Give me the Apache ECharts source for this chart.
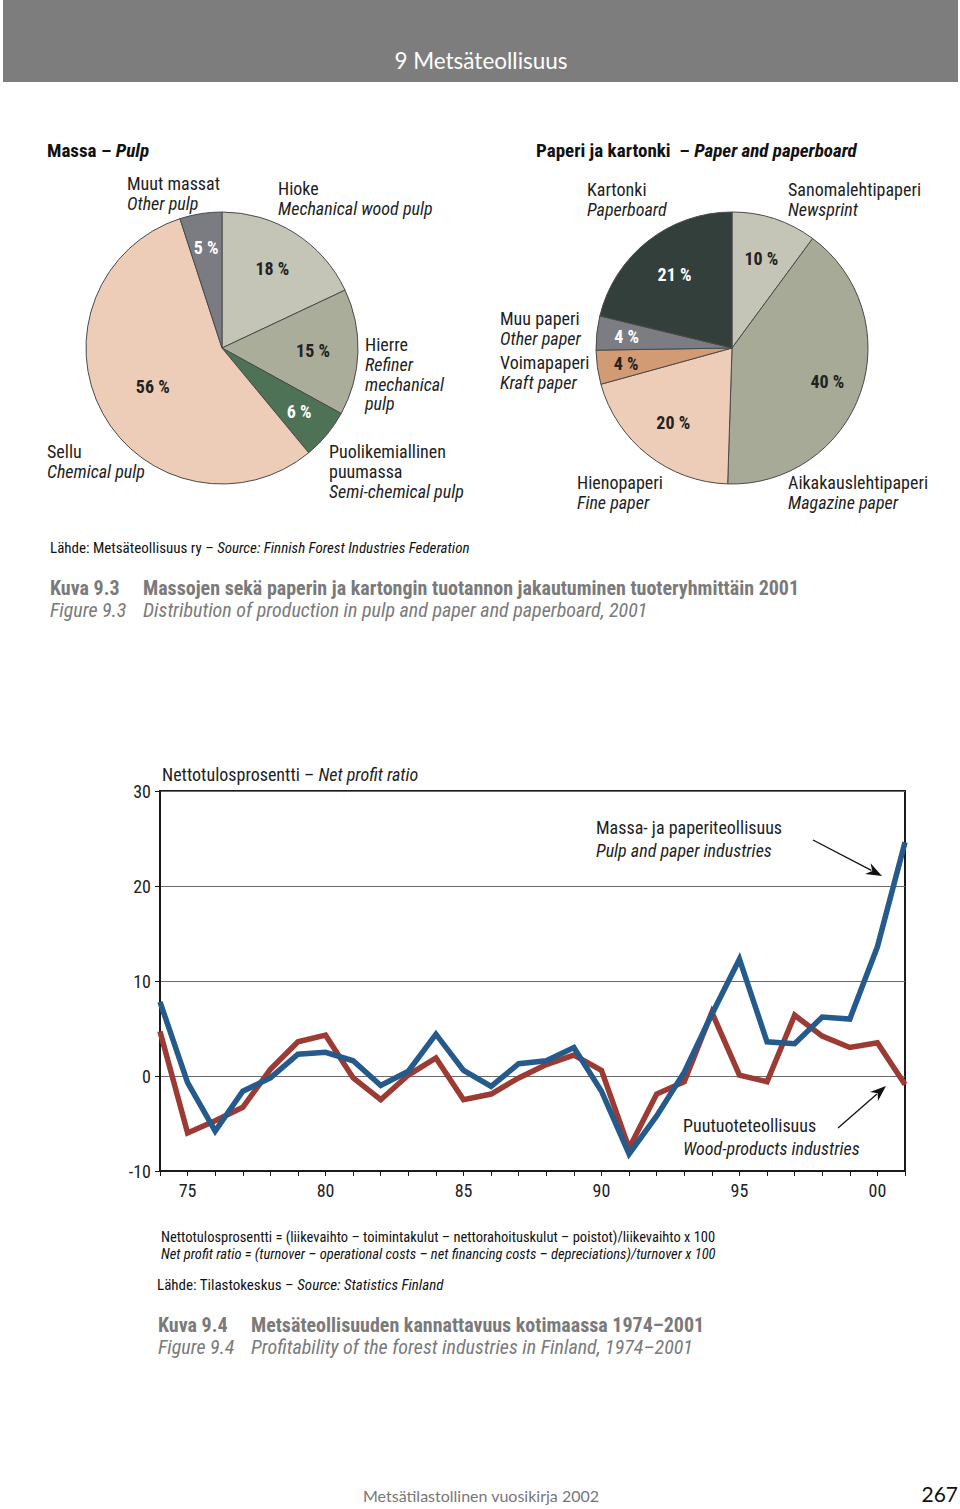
<!DOCTYPE html>
<html><head><meta charset="utf-8">
<script src="https://cdn.jsdelivr.net/npm/echarts@6/dist/echarts.min.js"></script>
<style>html,body{margin:0;padding:0;background:#fff}#c{width:960px;height:1509px}</style>
</head><body><div id="c"></div>
<script>
// ---- data ----
const pulpNames = ['Hioke', 'Hierre', 'Puolikemiallinen puumassa', 'Sellu', 'Muut massat'];
const pulpValues = [18, 15, 6, 56, 5];
const paperNames = ['Sanomalehtipaperi', 'Aikakauslehtipaperi', 'Hienopaperi', 'Voimapaperi', 'Muu paperi', 'Kartonki'];
const paperValues = [10, 40, 20, 4, 4, 21];
const years = [1974,1975,1976,1977,1978,1979,1980,1981,1982,1983,1984,1985,1986,1987,1988,1989,1990,1991,1992,1993,1994,1995,1996,1997,1998,1999,2000,2001];
const pulpPaper = [7.8,-0.7,-5.8,-1.6,-0.2,2.3,2.5,1.6,-1.0,0.5,4.4,0.6,-1.1,1.3,1.6,3.0,-1.6,-8.2,-4.2,0.4,6.5,12.3,3.6,3.4,6.2,6.0,13.6,24.6];
const woodProducts = [4.7,-6.0,-4.7,-3.3,0.7,3.6,4.3,-0.2,-2.5,0.1,1.9,-2.5,-1.9,-0.2,1.2,2.2,0.6,-7.6,-1.9,-0.6,6.7,0.1,-0.6,6.4,4.2,3.0,3.5,-0.9];
const xTickLabels = {1975:'75',1980:'80',1985:'85',1990:'90',1995:'95',2000:'00'};
const yTicks = [-10, 0, 10, 20, 30];

// ---- styles ----
const F = "'Liberation Sans Narrow','Arial Narrow','Roboto Condensed','Liberation Sans',sans-serif";
const pulpColors = ['#c4c5b6', '#a9ad99', '#4e7256', '#edcdb7', '#7a7c81'];
const pulpLabelColors = ['#222', '#222', '#fff', '#222', '#fff'];
const pulpLabelR = [94, 91, 100, 79, 102];
const paperColors = ['#c4c5b6', '#a6aa97', '#edcdb7', '#d39b73', '#7b7d82', '#333f3b'];
const paperLabelColors = ['#222', '#222', '#222', '#222', '#fff', '#fff'];
const paperLabelR = [94, 101, 95, 107, 106, 93];
const PIE_R = 136;
const pulpCenter = [222, 348];
const paperCenter = [732, 348];

function labelPos(values, i, center, r) {
  const tot = values.reduce((a, b) => a + b, 0);
  let cum = 0;
  for (let k = 0; k < i; k++) cum += values[k];
  const a = (cum + values[i] / 2) / tot * Math.PI * 2;
  return [center[0] + r * Math.sin(a), center[1] - r * Math.cos(a)];
}

function pieSeries(names, values, colors, lblColors, lblR, center) {
  return {
    type: 'pie', center: center, radius: [0, PIE_R], startAngle: 90, clockwise: true,
    animation: false, silent: true,
    data: names.map((n, i) => ({
      name: n, value: values[i],
      itemStyle: { color: colors[i] },
      label: { color: lblColors[i] }
    })),
    itemStyle: { borderColor: '#4a4a4a', borderWidth: 1 },
    label: { show: true, position: 'inside', formatter: '{c} %', fontFamily: F, fontWeight: 'bold', fontSize: 18 },
    labelLine: { show: false },
    labelLayout: function (p) {
      const xy = labelPos(values, p.dataIndex, center, lblR[p.dataIndex]);
      return { x: xy[0], y: xy[1], align: 'center', verticalAlign: 'middle' };
    }
  };
}

const rich = {
  n: { fontFamily: F, fontSize: 18, fill: '#1e1e1e', lineHeight: 19.7 },
  i: { fontFamily: F, fontSize: 18, fill: '#1e1e1e', fontStyle: 'italic', lineHeight: 19.7 },
  n2: { fontFamily: F, fontSize: 18, fill: '#1e1e1e', lineHeight: 23 },
  i2: { fontFamily: F, fontSize: 18, fill: '#1e1e1e', fontStyle: 'italic', lineHeight: 23 },
  b: { fontFamily: F, fontSize: 19, fill: '#111', fontWeight: 'bold', lineHeight: 22 },
  bi: { fontFamily: F, fontSize: 19, fill: '#111', fontWeight: 'bold', fontStyle: 'italic', lineHeight: 22 },
  s: { fontFamily: F, fontSize: 15, fill: '#111', lineHeight: 17 },
  si: { fontFamily: F, fontSize: 15, fill: '#111', fontStyle: 'italic', lineHeight: 17 },
  s2: { fontFamily: F, fontSize: 14.5, fill: '#111', lineHeight: 17 },
  si2: { fontFamily: F, fontSize: 14.5, fill: '#111', fontStyle: 'italic', lineHeight: 17 },
  g: { fontFamily: F, fontSize: 20, fill: '#7a7a7a', fontWeight: 'bold', lineHeight: 22 },
  gi: { fontFamily: F, fontSize: 20, fill: '#7a7a7a', fontStyle: 'italic', lineHeight: 22 }
};
function T(x, y, text, extra) {
  return Object.assign({ type: 'text', x: x, y: y, silent: true,
    style: Object.assign({ text: text, rich: rich, verticalAlign: 'top', align: 'left' }, extra || {}) });
}
function arrow(x1, y1, x2, y2) {
  const a = Math.atan2(y2 - y1, x2 - x1), L = 16, Wd = 6;
  const bx = x2 - L * Math.cos(a), by = y2 - L * Math.sin(a);
  const nx = -Math.sin(a), ny = Math.cos(a);
  return [
    { type: 'line', silent: true, shape: { x1: x1, y1: y1, x2: bx + 4 * Math.cos(a), y2: by + 4 * Math.sin(a) }, style: { stroke: '#111', lineWidth: 1.3 } },
    { type: 'polygon', silent: true, shape: { points: [[x2, y2], [bx + nx * Wd, by + ny * Wd], [bx + 5 * Math.cos(a), by + 5 * Math.sin(a)], [bx - nx * Wd, by - ny * Wd]] }, style: { fill: '#111' } }
  ];
}

const graphics = [
  { type: 'rect', silent: true, shape: { x: 3, y: 0, width: 955, height: 82 }, style: { fill: '#7d7d7d' } },
  { type: 'text', silent: true, x: 481, y: 60, style: { text: '9 Metsäteollisuus', fill: '#fff', font: "22.5px Lato, 'Open Sans', sans-serif", align: 'center', verticalAlign: 'middle' } },
  T(47, 139, '{b|Massa – }{bi|Pulp}'),
  T(536, 139, '{b|Paperi ja kartonki  – }{bi|Paper and paperboard}'),
  // pulp outer labels
  T(127, 174, '{n|Muut massat}\n{i|Other pulp}'),
  T(278, 179, '{n|Hioke}\n{i|Mechanical wood pulp}'),
  T(365, 335, '{n|Hierre}\n{i|Refiner}\n{i|mechanical}\n{i|pulp}'),
  T(47, 442, '{n|Sellu}\n{i|Chemical pulp}'),
  T(329, 442, '{n|Puolikemiallinen}\n{n|puumassa}\n{i|Semi-chemical pulp}'),
  // paper outer labels
  T(587, 180, '{n|Kartonki}\n{i|Paperboard}'),
  T(788, 180, '{n|Sanomalehtipaperi}\n{i|Newsprint}'),
  T(500, 309, '{n|Muu paperi}\n{i|Other paper}'),
  T(500, 353, '{n|Voimapaperi}\n{i|Kraft paper}'),
  T(577, 473, '{n|Hienopaperi}\n{i|Fine paper}'),
  T(788, 473, '{n|Aikakauslehtipaperi}\n{i|Magazine paper}'),
  // sources & captions
  T(50, 539, '{s|Lähde: Metsäteollisuus ry – }{si|Source: Finnish Forest Industries Federation}'),
  T(50, 577, '{g|Kuva 9.3}'),
  T(143, 577, '{g|Massojen sekä paperin ja kartongin tuotannon jakautuminen tuoteryhmittäin 2001}'),
  T(50, 599, '{gi|Figure 9.3}'),
  T(143, 599, '{gi|Distribution of production in pulp and paper and paperboard, 2001}'),
  // line chart texts
  T(162, 765, '{n|Nettotulosprosentti – }{i|Net profit ratio}'),
  T(596, 816, '{n2|Massa- ja paperiteollisuus}\n{i2|Pulp and paper industries}'),
  T(683, 1114, '{n2|Puutuoteteollisuus}\n{i2|Wood-products industries}'),
  T(161, 1229, '{s2|Nettotulosprosentti = (liikevaihto – toimintakulut – nettorahoituskulut – poistot)/liikevaihto x 100}'),
  T(161, 1246, '{si2|Net profit ratio = (turnover – operational costs – net financing costs – depreciations)/turnover x 100}'),
  T(157, 1276, '{s|Lähde: Tilastokeskus – }{si|Source: Statistics Finland}'),
  T(158, 1314, '{g|Kuva 9.4}'),
  T(251, 1314, '{g|Metsäteollisuuden kannattavuus kotimaassa 1974–2001}'),
  T(158, 1336, '{gi|Figure 9.4}'),
  T(251, 1336, '{gi|Profitability of the forest industries in Finland, 1974–2001}'),
  // footer
  { type: 'text', silent: true, x: 481, y: 1495, style: { text: 'Metsätilastollinen vuosikirja 2002', fill: '#777', font: "16px Lato, 'Open Sans', sans-serif", align: 'center', verticalAlign: 'middle' } },
  { type: 'text', silent: true, x: 958, y: 1493, style: { text: '267', fill: '#111', font: "21px Lato, 'Open Sans', sans-serif", align: 'right', verticalAlign: 'middle' } }
].concat(arrow(813, 840, 882, 876), arrow(838, 1128, 886, 1086));

const chart = echarts.init(document.getElementById('c'), null, { renderer: 'svg', width: 960, height: 1509 });
chart.setOption({
  animation: false,
  backgroundColor: '#fff',
  grid: { left: 160, top: 791, width: 745, height: 380, show: true, borderColor: '#1a1a1a', borderWidth: 2, backgroundColor: 'transparent' },
  xAxis: {
    type: 'value', min: years[0], max: years[years.length - 1], interval: 1,
    axisLine: { show: true, onZero: false, lineStyle: { color: '#1a1a1a', width: 2 } },
    axisTick: { show: true, length: 5, lineStyle: { color: '#1a1a1a', width: 1 } },
    axisLabel: { fontFamily: F, fontSize: 18, color: '#222', margin: 10, formatter: v => xTickLabels[v] || '', showMinLabel: true, showMaxLabel: true },
    splitLine: { show: false }
  },
  yAxis: {
    type: 'value', min: yTicks[0], max: yTicks[yTicks.length - 1], interval: 10,
    axisLine: { show: true, lineStyle: { color: '#1a1a1a', width: 2 } },
    axisTick: { show: true, length: 5, lineStyle: { color: '#1a1a1a', width: 1 } },
    axisLabel: { fontFamily: F, fontSize: 18, color: '#222', margin: 9 },
    splitLine: { show: true, lineStyle: { color: '#6a6a6a', width: 1 } }
  },
  series: [
    pieSeries(pulpNames, pulpValues, pulpColors, pulpLabelColors, pulpLabelR, pulpCenter),
    pieSeries(paperNames, paperValues, paperColors, paperLabelColors, paperLabelR, paperCenter),
    { type: 'line', name: 'Puutuoteteollisuus', data: years.map((y, i) => [y, woodProducts[i]]), showSymbol: false, symbol: 'none',
      lineStyle: { color: '#9b3b33', width: 5.5, join: 'miter' }, itemStyle: { color: '#9b3b33' }, z: 3 },
    { type: 'line', name: 'Massa- ja paperiteollisuus', data: years.map((y, i) => [y, pulpPaper[i]]), showSymbol: false, symbol: 'none',
      lineStyle: { color: '#255a8d', width: 5.5, join: 'miter' }, itemStyle: { color: '#255a8d' }, z: 4 }
  ],
  graphic: graphics
});
</script></body></html>
